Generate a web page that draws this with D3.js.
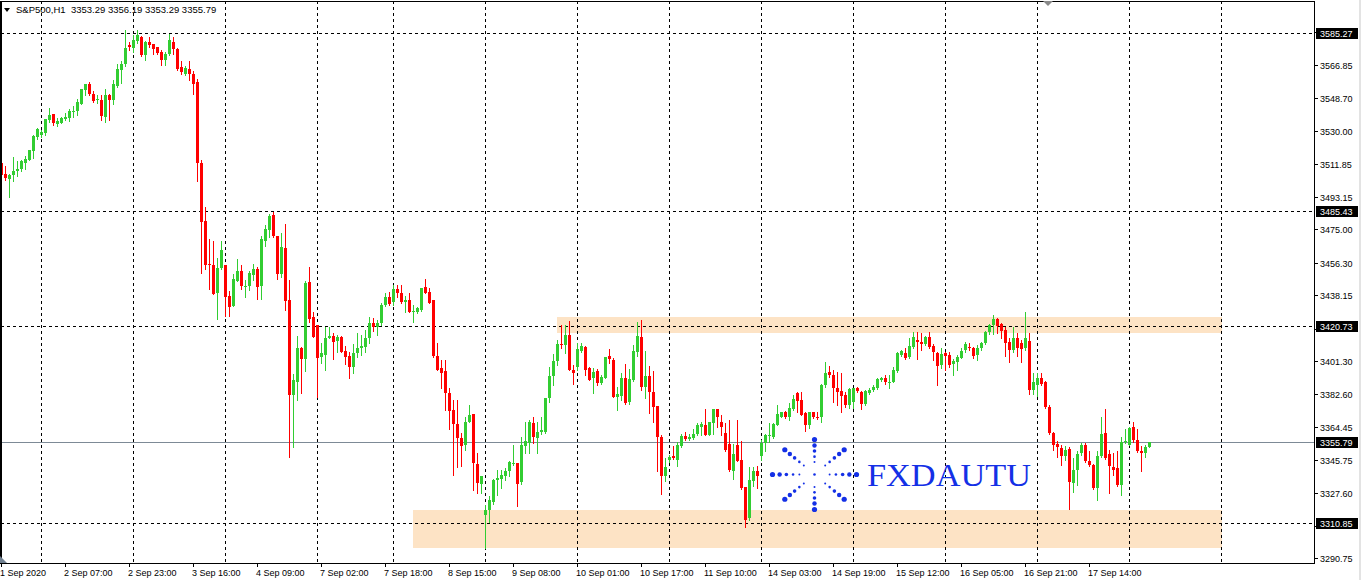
<!DOCTYPE html>
<html>
  <head>
    <meta charset="UTF-8">
    <script src="https://d3js.org/d3.v7.min.js"></script>
    <style>
      body { margin: 0; background: #fff; }
      #svg { display: block; }
      .axisText { font-family: "Liberation Sans", Arial, sans-serif; font-size: 9px; fill: #000; }
    </style>
    <title>S&amp;P500 H1</title>
  </head>
  <body>
    <svg id="svg" width="1361" height="580"></svg>
    <script>

// ************ Part A: data ************

      // hourly bars, 1 Sep 2020 -> 17 Sep 2020 (288 bars)
      const opens = [
        3512.2, 3505.9, 3503.1, 3505.3, 3507.6, 3508.7, 3512.0, 3513.9, 3518.8, 3526.6, 3527.7, 3529.2,
        3536.2, 3539.4, 3533.9, 3534.8, 3536.8, 3537.4, 3540.9, 3541.3, 3545.4, 3552.9, 3556.2, 3550.6,
        3547.3, 3547.3, 3537.9, 3550.1, 3547.3, 3555.2, 3564.0, 3567.4, 3578.0, 3576.5, 3580.4, 3583.0,
        3572.4, 3580.2, 3578.6, 3576.9, 3574.3, 3569.8, 3573.0, 3580.2, 3576.3, 3565.7, 3562.3, 3564.6,
        3562.3, 3557.3, 3512.2, 3479.6, 3455.6, 3455.0, 3439.5, 3453.2, 3455.0, 3437.7, 3432.1, 3446.2,
        3451.7, 3443.0, 3443.3, 3449.4, 3452.8, 3443.3, 3468.6, 3474.6, 3483.0, 3471.2, 3450.0, 3464.7,
        3435.5, 3382.0, 3389.8, 3408.8, 3402.3, 3445.4, 3425.8, 3421.5, 3403.7, 3404.7, 3414.4, 3415.3,
        3412.5, 3415.0, 3407.1, 3404.1, 3397.8, 3405.7, 3408.8, 3409.4, 3414.4, 3422.8, 3420.5, 3422.4,
        3432.7, 3437.3, 3434.5, 3441.4, 3439.5, 3434.5, 3435.5, 3429.2, 3428.9, 3429.9, 3442.9, 3440.1,
        3435.5, 3404.1, 3397.3, 3395.8, 3383.6, 3374.0, 3366.1, 3358.3, 3354.0, 3367.4, 3371.7, 3343.8,
        3332.6, 3315.3, 3318.1, 3322.2, 3334.5, 3335.2, 3336.7, 3339.5, 3344.1, 3344.2, 3333.3, 3353.5,
        3355.4, 3366.5, 3358.2, 3361.3, 3361.8, 3380.3, 3393.0, 3401.5, 3410.9, 3410.3, 3415.9, 3396.3,
        3397.8, 3407.1, 3409.4, 3397.3, 3391.5, 3395.9, 3388.9, 3392.0, 3404.1, 3401.9, 3381.1, 3381.8,
        3391.7, 3378.1, 3390.7, 3406.6, 3414.6, 3386.7, 3393.0, 3384.2, 3376.2, 3358.7, 3337.1, 3346.0,
        3348.3, 3346.0, 3353.5, 3359.4, 3357.6, 3358.2, 3360.6, 3364.6, 3365.2, 3360.0, 3366.5, 3374.4,
        3367.1, 3360.9, 3354.8, 3339.9, 3354.4, 3346.0, 3330.5, 3313.4, 3333.9, 3339.5, 3347.9, 3355.4,
        3359.8, 3358.5, 3365.6, 3370.2, 3372.7, 3370.2, 3374.5, 3383.3, 3379.6, 3372.1, 3365.2, 3372.7,
        3369.8, 3369.7, 3387.6, 3395.4, 3393.5, 3386.3, 3384.6, 3382.3, 3376.8, 3378.6, 3386.1, 3384.2,
        3377.2, 3383.3, 3385.2, 3386.1, 3390.7, 3392.0, 3389.7, 3389.8, 3395.8, 3404.7, 3405.7, 3403.7,
        3409.4, 3413.1, 3412.1, 3410.7, 3415.0, 3409.9, 3406.0, 3399.1, 3405.7, 3404.7, 3399.5, 3401.0,
        3403.2, 3407.5, 3409.4, 3408.5, 3404.7, 3408.5, 3411.3, 3417.7, 3421.5, 3424.8, 3421.9, 3418.7,
        3411.8, 3407.5, 3414.0, 3411.3, 3408.5, 3412.7, 3385.2, 3387.9, 3392.0, 3389.4, 3375.8, 3360.9,
        3354.8, 3352.6, 3347.9, 3352.2, 3333.0, 3340.4, 3349.8, 3354.4, 3345.1, 3342.8, 3330.2, 3347.9,
        3360.9, 3349.2, 3341.9, 3341.4, 3332.0, 3355.9, 3354.4, 3364.1, 3357.2, 3351.1, 3349.8, 3353.29
      ];

      const highs = [
        3512.8, 3510.5, 3506.3, 3515.6, 3513.2, 3513.6, 3516.0, 3519.7, 3527.7, 3532.0, 3530.5, 3537.0,
        3542.8, 3539.8, 3537.6, 3537.9, 3540.2, 3542.6, 3544.3, 3548.2, 3553.8, 3556.6, 3557.5, 3552.5,
        3550.1, 3550.1, 3553.8, 3551.0, 3558.4, 3567.8, 3569.2, 3586.8, 3580.1, 3583.6, 3586.4, 3583.3,
        3580.5, 3582.6, 3578.8, 3577.0, 3575.6, 3574.3, 3584.2, 3582.6, 3576.4, 3569.1, 3566.3, 3569.1,
        3563.6, 3559.0, 3513.7, 3487.6, 3469.6, 3468.4, 3459.1, 3468.4, 3455.2, 3440.7, 3450.0, 3458.4,
        3455.0, 3446.6, 3451.7, 3455.6, 3454.1, 3471.2, 3477.4, 3483.5, 3484.8, 3471.3, 3472.8, 3477.9,
        3446.6, 3394.1, 3415.3, 3409.0, 3446.2, 3453.7, 3428.6, 3421.7, 3411.3, 3420.5, 3420.2, 3416.8,
        3415.9, 3415.3, 3409.8, 3406.6, 3410.9, 3417.2, 3415.9, 3418.7, 3426.1, 3425.2, 3424.3, 3433.6,
        3439.5, 3440.1, 3443.8, 3443.8, 3443.8, 3437.7, 3439.5, 3432.7, 3431.7, 3442.4, 3447.2, 3442.0,
        3435.6, 3411.3, 3401.9, 3401.9, 3386.1, 3379.6, 3379.6, 3361.1, 3370.2, 3376.8, 3371.8, 3349.9,
        3336.8, 3320.9, 3325.5, 3335.2, 3340.0, 3340.4, 3341.4, 3345.1, 3354.4, 3344.3, 3359.0, 3367.4,
        3368.0, 3369.9, 3366.9, 3370.2, 3380.4, 3398.2, 3405.3, 3413.1, 3421.5, 3421.5, 3423.9, 3399.1,
        3411.6, 3411.3, 3409.5, 3397.9, 3397.1, 3396.7, 3393.5, 3403.5, 3407.9, 3402.9, 3386.7, 3394.5,
        3399.7, 3396.7, 3410.3, 3423.3, 3424.3, 3407.1, 3398.6, 3395.9, 3376.3, 3360.0, 3347.0, 3348.8,
        3353.5, 3356.2, 3360.6, 3361.8, 3360.6, 3363.2, 3366.5, 3367.4, 3374.5, 3367.2, 3374.5, 3374.5,
        3371.2, 3366.5, 3368.4, 3354.8, 3368.4, 3356.6, 3330.9, 3341.7, 3341.7, 3342.3, 3357.2, 3360.4,
        3366.5, 3366.5, 3376.8, 3373.0, 3373.4, 3377.5, 3382.3, 3383.9, 3383.9, 3372.7, 3372.8, 3372.8,
        3372.7, 3388.3, 3401.0, 3398.7, 3396.3, 3395.2, 3394.6, 3384.0, 3386.3, 3386.4, 3387.0, 3384.6,
        3385.2, 3386.4, 3387.9, 3392.0, 3392.6, 3393.5, 3393.5, 3398.2, 3406.6, 3407.5, 3408.5, 3414.4,
        3417.4, 3417.4, 3416.8, 3415.5, 3417.4, 3410.7, 3406.6, 3408.5, 3406.6, 3406.6, 3402.5, 3404.7,
        3408.5, 3411.8, 3411.3, 3409.4, 3410.3, 3411.8, 3418.1, 3421.9, 3427.1, 3425.6, 3422.4, 3420.5,
        3414.0, 3420.5, 3416.8, 3413.1, 3428.6, 3416.8, 3394.5, 3394.5, 3394.5, 3390.2, 3376.4, 3361.5,
        3356.6, 3354.4, 3353.5, 3352.9, 3347.0, 3350.7, 3355.4, 3355.4, 3350.7, 3343.6, 3350.7, 3370.2,
        3374.5, 3351.6, 3349.8, 3351.1, 3358.5, 3363.4, 3364.1, 3367.1, 3363.4, 3353.5, 3354.0, 3356.19
      ];

      const lows = [
        3504.4, 3502.9, 3493.2, 3502.2, 3504.8, 3507.7, 3508.9, 3513.6, 3514.8, 3525.6, 3526.7, 3527.7,
        3535.1, 3533.5, 3532.9, 3534.4, 3536.1, 3535.7, 3537.9, 3538.9, 3545.0, 3550.1, 3550.1, 3546.3,
        3546.0, 3536.1, 3535.1, 3536.1, 3545.0, 3554.7, 3557.2, 3566.4, 3575.6, 3574.3, 3579.5, 3571.9,
        3569.6, 3577.1, 3573.0, 3573.0, 3567.2, 3566.8, 3572.4, 3573.4, 3564.5, 3561.8, 3561.2, 3558.4,
        3551.0, 3502.2, 3450.7, 3452.6, 3441.4, 3438.6, 3425.0, 3452.6, 3426.7, 3426.7, 3432.0, 3446.1,
        3441.4, 3437.3, 3441.1, 3446.6, 3435.8, 3435.8, 3465.6, 3470.9, 3470.9, 3447.2, 3448.5, 3429.9,
        3347.5, 3353.1, 3379.2, 3383.6, 3395.9, 3423.0, 3414.6, 3381.1, 3400.4, 3396.3, 3414.2, 3402.5,
        3406.6, 3406.5, 3399.7, 3392.0, 3394.8, 3403.7, 3404.7, 3406.6, 3411.6, 3418.3, 3415.9, 3421.5,
        3432.1, 3432.5, 3432.5, 3437.3, 3433.6, 3428.9, 3428.6, 3423.3, 3428.0, 3429.5, 3439.2, 3433.6,
        3403.7, 3396.2, 3386.1, 3374.0, 3363.2, 3337.6, 3342.1, 3342.3, 3351.2, 3367.3, 3328.9, 3327.4,
        3327.4, 3296.8, 3311.0, 3321.4, 3326.5, 3330.2, 3334.8, 3336.7, 3343.2, 3320.3, 3332.6, 3349.8,
        3349.8, 3355.4, 3349.8, 3360.5, 3360.9, 3378.6, 3387.9, 3399.1, 3408.4, 3406.0, 3396.2, 3388.5,
        3396.3, 3406.6, 3393.5, 3390.6, 3383.6, 3387.9, 3388.5, 3391.7, 3400.4, 3381.1, 3374.0, 3379.2,
        3377.3, 3377.3, 3390.3, 3404.1, 3385.2, 3380.5, 3372.1, 3366.9, 3339.5, 3327.0, 3333.9, 3344.5,
        3346.4, 3342.3, 3353.1, 3356.8, 3356.8, 3357.6, 3360.0, 3359.6, 3359.6, 3359.6, 3360.4, 3364.1,
        3360.0, 3351.1, 3339.9, 3335.4, 3345.1, 3329.8, 3308.6, 3312.4, 3331.1, 3330.2, 3346.0, 3350.7,
        3356.2, 3358.2, 3365.2, 3369.7, 3369.3, 3368.4, 3374.0, 3373.0, 3370.8, 3362.2, 3363.7, 3369.3,
        3369.0, 3367.4, 3387.0, 3392.6, 3378.4, 3376.8, 3372.9, 3375.7, 3375.1, 3374.9, 3383.9, 3374.5,
        3376.8, 3382.7, 3384.6, 3385.7, 3390.2, 3388.3, 3386.4, 3389.4, 3395.4, 3404.3, 3402.5, 3402.9,
        3408.8, 3402.5, 3407.5, 3410.3, 3408.8, 3401.9, 3387.6, 3397.3, 3396.3, 3398.2, 3393.5, 3396.3,
        3402.9, 3406.6, 3407.5, 3402.9, 3401.9, 3407.5, 3410.7, 3416.3, 3416.3, 3416.8, 3414.0, 3404.3,
        3400.6, 3406.6, 3404.3, 3401.0, 3407.5, 3382.7, 3382.7, 3381.9, 3387.9, 3374.9, 3360.4, 3351.6,
        3347.3, 3342.8, 3346.0, 3318.6, 3328.0, 3332.0, 3348.8, 3344.7, 3342.3, 3329.8, 3323.7, 3347.3,
        3346.6, 3327.4, 3337.6, 3331.1, 3326.5, 3355.4, 3354.0, 3356.2, 3350.3, 3339.5, 3347.3, 3353.29
      ];

      const closes = [
        3505.3, 3503.7, 3505.3, 3507.6, 3508.7, 3513.2, 3514.3, 3519.3, 3527.1, 3531.1, 3529.5, 3536.6,
        3538.9, 3534.8, 3535.5, 3537.4, 3537.9, 3541.1, 3541.3, 3546.3, 3553.4, 3556.2, 3551.0, 3546.9,
        3547.8, 3538.5, 3550.1, 3547.3, 3556.2, 3564.6, 3567.4, 3576.7, 3577.1, 3580.8, 3583.6, 3572.4,
        3580.2, 3578.0, 3576.3, 3573.7, 3569.8, 3573.0, 3580.8, 3575.8, 3564.6, 3562.9, 3565.2, 3561.8,
        3556.2, 3512.2, 3479.2, 3455.0, 3455.3, 3438.8, 3453.5, 3463.4, 3437.3, 3431.7, 3447.2, 3451.7,
        3443.3, 3443.3, 3450.7, 3452.8, 3442.9, 3469.6, 3475.2, 3482.6, 3471.2, 3450.0, 3465.3, 3435.1,
        3382.3, 3390.7, 3408.8, 3402.5, 3445.1, 3424.8, 3415.0, 3403.2, 3405.7, 3414.4, 3415.3, 3412.1,
        3414.6, 3406.6, 3403.7, 3397.8, 3405.7, 3408.8, 3409.8, 3414.4, 3422.8, 3420.5, 3422.8, 3432.7,
        3437.3, 3433.1, 3441.4, 3439.5, 3434.5, 3435.5, 3428.9, 3429.3, 3431.1, 3442.3, 3439.5, 3433.9,
        3404.3, 3396.3, 3394.8, 3383.6, 3373.4, 3366.1, 3358.2, 3353.5, 3367.4, 3371.2, 3344.2, 3333.0,
        3336.7, 3318.1, 3323.3, 3334.8, 3335.8, 3337.6, 3339.5, 3344.5, 3344.2, 3332.6, 3354.4, 3356.6,
        3366.9, 3358.5, 3361.8, 3362.8, 3380.3, 3393.0, 3401.5, 3410.9, 3410.7, 3415.9, 3396.3, 3394.8,
        3407.9, 3409.8, 3396.3, 3390.7, 3395.2, 3388.9, 3392.6, 3403.4, 3402.3, 3381.4, 3382.9, 3391.7,
        3377.7, 3391.1, 3407.1, 3415.3, 3387.0, 3393.0, 3384.2, 3375.8, 3358.7, 3336.7, 3342.0, 3347.5,
        3347.0, 3354.4, 3359.4, 3357.6, 3359.0, 3360.6, 3365.6, 3366.0, 3360.0, 3367.1, 3374.4, 3369.7,
        3364.6, 3351.2, 3340.0, 3349.2, 3345.5, 3330.2, 3312.5, 3334.8, 3339.5, 3336.7, 3355.4, 3360.0,
        3360.0, 3366.0, 3371.6, 3372.7, 3370.2, 3374.9, 3380.1, 3379.0, 3371.2, 3365.2, 3372.7, 3369.7,
        3369.7, 3387.6, 3394.5, 3393.2, 3386.1, 3384.2, 3381.8, 3376.8, 3385.7, 3386.1, 3384.6, 3377.2,
        3384.6, 3385.2, 3387.0, 3391.3, 3392.0, 3389.4, 3389.8, 3396.3, 3405.7, 3407.0, 3403.2, 3409.9,
        3414.6, 3412.1, 3410.7, 3415.0, 3409.4, 3406.2, 3398.7, 3405.1, 3404.3, 3399.1, 3401.4, 3403.7,
        3407.0, 3410.7, 3408.5, 3404.3, 3408.8, 3411.3, 3417.7, 3421.5, 3424.8, 3421.1, 3418.1, 3411.3,
        3407.5, 3414.4, 3408.5, 3408.1, 3414.0, 3385.2, 3389.4, 3392.0, 3388.3, 3375.3, 3360.9, 3354.4,
        3352.9, 3347.9, 3351.6, 3333.6, 3340.4, 3349.2, 3354.4, 3345.1, 3342.8, 3330.2, 3347.9, 3360.4,
        3347.0, 3342.3, 3340.4, 3332.0, 3356.2, 3356.6, 3363.7, 3357.2, 3350.7, 3349.8, 3352.9, 3355.79
      ];

      // time axis: one label every 16 bars
      const timeLabels = ["1 Sep 2020", "2 Sep 07:00", "2 Sep 23:00", "3 Sep 16:00", "4 Sep 09:00",
        "7 Sep 02:00", "7 Sep 18:00", "8 Sep 15:00", "9 Sep 08:00", "10 Sep 01:00", "10 Sep 17:00",
        "11 Sep 10:00", "14 Sep 03:00", "14 Sep 19:00", "15 Sep 12:00", "16 Sep 05:00", "16 Sep 21:00",
        "17 Sep 14:00"];
      const labelStep = 16;

      // bar index of each day start (vertical grid)
      const dayStarts = [10, 33, 56, 79, 98, 121, 144, 167, 190, 213, 236, 259, 282, 305];

      // price scale ticks and horizontal levels
      const priceTicks = [3585.55, 3566.85, 3548.70, 3530.00, 3511.85, 3493.15, 3475.00, 3456.30,
        3438.15, 3419.45, 3401.30, 3382.60, 3364.45, 3345.75, 3327.60, 3308.90, 3290.75];
      const levels = [3585.27, 3485.43, 3420.73, 3310.85];
      const lastPrice = 3355.79;

      // shaded zones: bar index from/to, price top/bottom
      const zoneFrom = [102.8, 138.8];
      const zoneTo = [305, 305];
      const zoneTop = [3318.1, 3426.1];
      const zoneBottom = [3296.5, 3417.2];

      const header = "S&P500,H1  3353.29 3356.19 3353.29 3355.79";

// ************ Part B: scales ************

      const svg = d3.select("svg#svg");
      const plotRight = 1314;
      const plotBottom = 563;

      const x = d3.scaleLinear().domain([0, 328]).range([1.5, 1313.5]);
      const y = d3.scaleLinear().domain([3310.85, 3585.27]).range([522.5, 32.5]);

      const bars = opens.map((o, i) => ({i: i, o: o, h: highs[i], l: lows[i], c: closes[i]}));

      svg.append("rect").attr("width", 1361).attr("height", 580).attr("fill", "#fff");
      svg.append("rect").attr("x", 1359).attr("y", 0).attr("width", 2).attr("height", 580).attr("fill", "#e3e3e3");

      const plot = svg.append("g").attr("shape-rendering", "crispEdges");

      // zones
      plot.selectAll("rect.zone")
        .data(zoneFrom)
        .enter()
        .append("rect")
        .attr("class", "zone")
        .attr("x", (d) => x(d))
        .attr("width", (d, k) => x(zoneTo[k]) - x(d))
        .attr("y", (d, k) => y(zoneTop[k]))
        .attr("height", (d, k) => y(zoneBottom[k]) - y(zoneTop[k]))
        .attr("fill", "#fde3c5");

      // last price line
      plot.append("line")
        .attr("x1", 0).attr("x2", plotRight)
        .attr("y1", Math.round(y(lastPrice)) + 0.5).attr("y2", Math.round(y(lastPrice)) + 0.5)
        .attr("stroke", "#7d8a96").attr("stroke-width", 1);

      // gridlines (day starts)
      plot.selectAll("line.vgrid")
        .data(dayStarts)
        .enter()
        .append("line")
        .attr("x1", (d) => Math.floor(x(d)) + 0.5).attr("x2", (d) => Math.floor(x(d)) + 0.5)
        .attr("y1", 1).attr("y2", plotBottom)
        .attr("stroke", "#000").attr("stroke-dasharray", "3,3");

      // horizontal levels
      plot.selectAll("line.level")
        .data(levels)
        .enter()
        .append("line")
        .attr("x1", 1).attr("x2", plotRight)
        .attr("y1", (d) => Math.round(y(d)) + 0.5).attr("y2", (d) => Math.round(y(d)) + 0.5)
        .attr("stroke", "#000").attr("stroke-dasharray", "3,3");

// ************ Part C: watermark ************

      const logo = svg.append("g").attr("fill", "#1430e6");
      const cx = 814.5, cy = 474.5;
      const armT = [1, 0.83, 0.67, 0.51, 0.36];
      const armR = [2.6, 2.2, 1.8, 1.3, 1.0];
      for (let a = 0; a < 8; a++) {
        const ang = a * Math.PI / 4;
        armT.forEach((t, k) => {
          logo.append("circle")
            .attr("cx", cx + Math.cos(ang) * 42 * t)
            .attr("cy", cy + Math.sin(ang) * 35 * t)
            .attr("r", armR[k]);
        });
      }
      logo.append("circle").attr("cx", cx).attr("cy", cy).attr("r", 1.3);

      svg.append("text")
        .attr("x", 867).attr("y", 486)
        .attr("font-family", "Liberation Serif, Times New Roman, serif")
        .attr("font-size", 31)
        .attr("textLength", 164).attr("lengthAdjust", "spacingAndGlyphs")
        .attr("fill", "#1430e6")
        .text("FXDAUTU");

// ************ Part D: candles ************

      const candles = svg.append("g").attr("shape-rendering", "crispEdges");
      const colour = (d) => d.c >= d.o ? "#32cd32" : "#ff0000";

      candles.selectAll("rect.wick")
        .data(bars)
        .enter()
        .append("rect")
        .attr("x", (d) => x(d.i) - 0.5)
        .attr("width", 1)
        .attr("y", (d) => Math.round(y(d.h)))
        .attr("height", (d) => Math.max(1, Math.round(y(d.l)) - Math.round(y(d.h)) + 1))
        .attr("fill", colour);

      candles.selectAll("rect.body")
        .data(bars)
        .enter()
        .append("rect")
        .attr("x", (d) => x(d.i) - 1.5)
        .attr("width", 3)
        .attr("y", (d) => Math.round(y(Math.max(d.o, d.c))))
        .attr("height", (d) => Math.max(1, Math.round(y(Math.min(d.o, d.c))) - Math.round(y(Math.max(d.o, d.c)))))
        .attr("fill", colour);

// ************ Part E: frame, axes, labels ************

      const frame = svg.append("g").attr("shape-rendering", "crispEdges");
      frame.append("path")
        .attr("d", "M0.5,1.5 H" + (plotRight + 0.5) + " V" + (plotBottom + 0.5) + " H0.5 Z")
        .attr("fill", "none").attr("stroke", "#000");
      frame.append("rect").attr("x", 0).attr("y", 1).attr("width", 2).attr("height", plotBottom).attr("fill", "#000");

      // highlighted prices on the scale
      const marks = levels.concat([lastPrice]);

      // price axis (labels hidden behind a highlighted price are left out)
      const rightAxis = svg.append("g");
      rightAxis.selectAll("line")
        .data(priceTicks)
        .enter()
        .append("line")
        .attr("shape-rendering", "crispEdges")
        .attr("x1", plotRight).attr("x2", plotRight + 4)
        .attr("y1", (d) => Math.round(y(d)) + 0.5).attr("y2", (d) => Math.round(y(d)) + 0.5)
        .attr("stroke", "#000");
      rightAxis.selectAll("text")
        .data(priceTicks.filter((t) => marks.every((m) => Math.abs(y(m) - y(t)) > 9)))
        .enter()
        .append("text")
        .attr("class", "axisText")
        .attr("x", plotRight + 6)
        .attr("y", (d) => Math.round(y(d)) + 4)
        .text((d) => d.toFixed(2));

      marks.forEach((p) => {
        const py = Math.round(y(p));
        rightAxis.append("rect")
          .attr("x", plotRight + 2).attr("y", py - 5)
          .attr("width", 42).attr("height", 11)
          .attr("fill", "#000");
        rightAxis.append("text")
          .attr("class", "axisText")
          .attr("x", plotRight + 6).attr("y", py + 4)
          .style("fill", "#fff")
          .text(p.toFixed(2));
      });

      // time axis
      const bottomAxis = svg.append("g");
      bottomAxis.selectAll("line")
        .data(timeLabels)
        .enter()
        .append("line")
        .attr("shape-rendering", "crispEdges")
        .attr("x1", (d, k) => Math.floor(x(k * labelStep)) + 0.5)
        .attr("x2", (d, k) => Math.floor(x(k * labelStep)) + 0.5)
        .attr("y1", plotBottom).attr("y2", plotBottom + 4)
        .attr("stroke", "#000");
      bottomAxis.selectAll("text")
        .data(timeLabels)
        .enter()
        .append("text")
        .attr("class", "axisText")
        .attr("x", (d, k) => Math.floor(x(k * labelStep)) - 1)
        .attr("y", 576)
        .text((d) => d);

      // header
      svg.append("path").attr("d", "M4,8 L10,8 L7,12 Z").attr("fill", "#000");
      svg.append("text")
        .attr("class", "axisText")
        .attr("x", 16).attr("y", 13)
        .style("font-size", "9.5px")
        .style("white-space", "pre")
        .text(header);

      // small grey markers
      svg.append("path").attr("d", "M1043,1 L1053,1 L1048,6 Z").attr("fill", "#8a8a8a");
      svg.append("path").attr("d", "M0,556 L0,563 L7,563 Z").attr("fill", "#708090");

    </script>
  </body>
</html>
